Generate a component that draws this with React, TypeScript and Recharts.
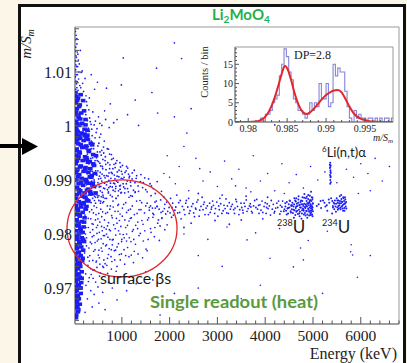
import {
  ScatterChart,
  Scatter,
  ComposedChart,
  Line,
  XAxis,
  YAxis,
  ReferenceArea,
  ReferenceDot,
} from "recharts";

// main scatter: [energy keV, m/S_m]
const lowCore: [number, number][] = [
  [30,1.0062],[140,1.0058],[80,1.0051],[190,1.0047],[35,1.0043],[120,1.0039],[60,1.0032],[210,1.0028],[150,1.0024],[30,1.0021],
  [95,1.0016],[240,1.0012],[45,1.0009],[170,1.0005],[110,1.0001],[40,0.9997],[220,0.9994],[75,0.999],[160,0.9987],[280,0.9983],
  [40,0.998],[130,0.9977],[200,0.9973],[30,0.997],[90,0.9967],[250,0.9963],[170,0.996],[55,0.9957],[310,0.9953],[120,0.995],
  [35,0.9946],[230,0.9943],[85,0.994],[180,0.9936],[290,0.9933],[35,0.993],[140,0.9926],[240,0.9923],[70,0.992],[200,0.9916],
  [30,0.9913],[110,0.991],[330,0.9906],[160,0.9903],[50,0.99],[260,0.9896],[95,0.9893],[190,0.989],[40,0.9886],[300,0.9883],
  [130,0.988],[220,0.9876],[60,0.9873],[170,0.987],[30,0.9866],[270,0.9863],[100,0.986],[200,0.9856],[40,0.9853],[150,0.985],
  [240,0.9846],[80,0.9843],[180,0.984],[35,0.9836],[120,0.9833],[220,0.983],[55,0.9826],[160,0.9823],[90,0.982],[30,0.9816],
  [200,0.9813],[130,0.981],[45,0.9806],[180,0.9803],[100,0.98],[40,0.9796],[160,0.9793],[70,0.979],[210,0.9786],[120,0.9783],
  [30,0.978],[150,0.9776],[60,0.9773],[190,0.977],[100,0.9766],[30,0.9763],[140,0.976],[75,0.9756],[30,0.9753],[170,0.975],
  [110,0.9746],[40,0.9743],[130,0.974],[70,0.9736],[30,0.9733],[160,0.973],[95,0.9726],[40,0.9723],[120,0.972],[60,0.9716],
  [30,0.9713],[150,0.971],[85,0.9706],[35,0.9703],[110,0.97],[55,0.9696],[30,0.9693],[140,0.969],[80,0.9686],[35,0.9683],
  [100,0.968],[50,0.9676],[30,0.9673],[120,0.967],[70,0.9666],[35,0.9663],[90,0.966],
  [50,1.0055],[90,1.002],[40,0.9985],[110,0.9952],[60,0.9918],[100,0.9882],[45,0.9848],[90,0.9815],[50,0.978],[80,0.9748],
  [40,0.9712],[70,0.9678],[45,0.965],[260,0.9978],[270,0.9938],[240,0.99],[230,0.9868],[210,0.9822],[190,0.979],[180,0.9755],
  [160,0.9718],[140,0.97],[380,0.9965],[400,0.993],[360,0.9905],[340,0.9878],
  [65,1.0047],[105,1.0036],[45,1.0026],[130,1.0013],[70,1.0004],[50,0.9993],[115,0.9983],[65,0.9974],[140,0.9965],[45,0.9954],
  [95,0.9944],[60,0.9935],[125,0.9924],[40,0.9915],[85,0.9906],[150,0.9896],[65,0.9886],[110,0.9876],[45,0.9866],[140,0.9856],
  [75,0.9846],[120,0.9836],[50,0.9826],[95,0.9816],[140,0.9806],[65,0.9796],[110,0.9786],[45,0.9776],[90,0.9766],[55,0.9756],
  [120,0.9746],[85,0.9736],[45,0.9726],[75,0.9716],[100,0.9706],[45,0.9696],[70,0.9686],[55,0.9672],[80,0.9656],[40,0.9645],
  [225,0.9982],[290,0.9975],[350,0.9968],[240,0.9961],[310,0.9955],[400,0.9947],[260,0.9941],[330,0.9934],[420,0.9927],[230,0.9921],
  [300,0.9914],[370,0.9908],[250,0.9901],[320,0.9894],[410,0.9888],[270,0.9881],[350,0.9874],[230,0.9868],[300,0.9861],[390,0.9894],
  [440,0.9912],[460,0.9945],[280,0.9992],[240,1.0002],[200,0.9858],[260,0.9851],[220,0.9985],[340,0.9921],[450,0.9876],
];

const upperSparse: [number, number][] = [
  [30,1.0175],[45,1.0168],[30,1.016],[60,1.0152],[35,1.0146],[30,1.0139],[80,1.0133],[50,1.0127],[30,1.0121],[110,1.0115],
  [55,1.011],[35,1.0104],[150,1.0099],[70,1.0095],[30,1.0091],[95,1.0087],[40,1.0083],[180,1.0079],[120,1.0075],[60,1.0071],
  [35,1.0068],[200,1.0064],[85,1.0066],[140,1.0071],[250,1.0056],[230,1.0088],[170,1.0102],[90,1.0122],[130,1.014],[60,1.0162],
  [40,1.013],[75,1.011],[45,1.0095],[100,1.01],[65,1.0082],[38,1.0113],[52,1.0078],[67,1.0137],[44,1.0058],[118,1.0053],
  [1030,1.0126],[1726,1.0107],[2100,1.0154],[990,1.0076],[1280,1.0048],[1750,1.0024],[2100,1.0017],[2360,0.9987],[680,1.007],
  [490,1.0081],[540,1.0005],[760,1.0041],[1630,1.0062],[2250,1.0125],[900,1.0012],[1350,1.0001],[4200,1.0002],[2450,1.0032],
  [430,1.0068],[360,1.0095],[640,1.0028],[320,1.0052],[1120,1.0021],
];

const betaHalo: [number, number][] = [
  [320,0.999],[360,0.9972],[410,0.9958],[350,0.994],[390,0.9925],[430,0.9912],[370,0.9898],[450,0.9886],[330,0.9874],[480,0.9995],
  [520,0.9968],[460,0.9946],[540,0.9931],[500,0.9917],[560,0.9903],[470,0.9889],[590,0.9877],[520,0.9862],[620,0.995],[650,0.9936],
  [600,0.9921],[680,0.9908],[640,0.9894],[700,0.9882],[610,0.9868],[720,0.9957],[750,0.9928],[780,0.9914],[730,0.9899],[800,0.9887],
  [760,0.9872],[820,0.994],[860,0.9923],[900,0.9907],[850,0.9893],[930,0.988],[880,0.9866],[960,0.9932],[990,0.9916],[1020,0.9902],
  [970,0.989],[1060,0.9876],[1100,0.9925],[1140,0.9911],[1180,0.9896],[1120,0.9884],[1220,0.987],[1260,0.9918],[1300,0.9903],[1340,0.9889],
  [1280,0.9877],[1400,0.991],[1450,0.9895],[1500,0.9882],[1560,0.9902],[1620,0.9889],[1700,0.9875],
  [280,1.001],[310,1.003],[260,1.0045],[340,1.0008],[420,1.0002],[290,0.9982],[300,0.9962],[280,0.9948],[310,0.993],[270,0.9918],
  [320,0.9905],[350,0.9889],[300,0.9872],[380,0.9982],[400,0.9948],[440,0.9936],[420,0.99],[390,0.9866],[440,0.9978],[380,0.9916],
  [560,0.9985],[580,0.9955],[500,0.9895],[550,0.988],[430,0.987],
  [262,0.9935],[287,0.9899],[305,0.9977],[318,0.9863],[333,0.9951],[347,0.9917],[362,0.9884],[371,0.9994],[389,0.9941],[402,0.9873],
  [415,0.9968],[428,0.9896],[437,0.9929],[451,0.9857],[463,0.9988],[476,0.9909],[489,0.9952],[497,0.9868],[511,0.9934],[523,0.9891],
  [534,0.9979],[547,0.9914],[558,0.9861],[569,0.9946],[581,0.9898],[593,0.9925],[606,0.9872],[617,0.9961],[629,0.9908],[642,0.9884],
  [655,0.9943],[668,0.9919],[679,0.9866],[693,0.9897],[706,0.9932],[718,0.9876],[731,0.9913],[744,0.9948],[757,0.9888],[771,0.9903],
  [786,0.9938],[799,0.9869],[813,0.9921],[828,0.9894],[842,0.9909],[858,0.9879],[873,0.9931],[889,0.9898],[905,0.9915],[921,0.9871],
  [938,0.9906],[954,0.9889],[972,0.9924],[991,0.9877],[1008,0.9911],[1027,0.9893],[1046,0.9905],[1067,0.9884],[1089,0.9917],[1112,0.9898],
  [1136,0.9878],[1161,0.9907],[1188,0.9889],[1215,0.9902],[1244,0.9881],[1275,0.9895],[1310,0.9908],[1350,0.9879],[1390,0.9897],[1435,0.9886],
  [1480,0.9904],[1530,0.9878],[1590,0.9893],[1660,0.9884],[1740,0.9897],[1830,0.9879],
  [246,1.0021],[271,1.0038],[298,0.9996],[326,1.0015],[356,1.0003],[393,1.0026],[447,1.0009],[512,1.0017],[583,1.0001],[661,1.0012],
  [735,0.9997],[829,1.0006],[252,0.9957],[277,0.9912],[292,0.9878],[258,0.9891],[283,0.9962],[339,0.9904],[366,0.9958],[398,0.9912],
  [442,0.9874],[486,0.9936],[532,0.9907],
  [452,0.9917],[468,0.9941],[483,0.9872],[499,0.9963],[514,0.9902],[528,0.9887],[543,0.9952],[557,0.9926],[572,0.9869],[587,0.9911],
  [603,0.9938],[618,0.9885],[633,0.9972],[649,0.9904],[664,0.9929],[679,0.9891],[695,0.9958],[712,0.9907],[728,0.9886],[745,0.9921],
  [763,0.9894],[781,0.9947],[799,0.9912],[818,0.9881],[837,0.9929],[856,0.9902],[876,0.9888],[897,0.9936],[918,0.9896],[941,0.9918],
  [964,0.9883],[988,0.9903],[1013,0.9927],[1039,0.9887],[1066,0.9914],[1094,0.9893],[1123,0.9922],[1153,0.9904],[1185,0.9871],[1219,0.9913],
];

const surfaceBetas: [number, number][] = [
  [250,0.988],[320,0.9862],[280,0.9845],[350,0.9828],[300,0.9812],[380,0.9795],[260,0.9778],[330,0.976],[290,0.9742],[360,0.9725],
  [420,0.9852],[460,0.9836],[400,0.9818],[480,0.9801],[440,0.9784],[410,0.9768],[470,0.975],[430,0.9733],[520,0.9871],[560,0.9846],
  [540,0.9822],[590,0.9806],[510,0.979],[570,0.9774],[530,0.9756],[600,0.974],[620,0.986],[660,0.9838],[700,0.9815],[640,0.9797],
  [680,0.978],[720,0.9762],[650,0.9745],[760,0.9852],[800,0.983],[740,0.9808],[820,0.979],[780,0.9771],[850,0.9752],[880,0.9866],
  [920,0.9842],[900,0.982],[960,0.98],[930,0.9782],[990,0.9763],[1040,0.9855],[1010,0.9833],[1080,0.9812],[1050,0.9793],[1120,0.9775],
  [1180,0.9846],[1150,0.9824],[1220,0.9805],[1190,0.9786],[1260,0.9768],[1320,0.9838],[1290,0.9816],[1360,0.9797],[1420,0.9825],[1480,0.9806],
  [1450,0.9787],[1560,0.983],[1600,0.981],[1680,0.9795],[1750,0.982],[1820,0.984],[1900,0.9808],[1380,0.9862],[1500,0.9852],[1640,0.9848],
  [1150,0.9868],[980,0.9876],[870,0.9884],[720,0.9878],[560,0.9888],[1280,0.9878],
  [230,0.9835],[240,0.98],[220,0.9765],[350,0.9872],[370,0.9845],[390,0.9808],[340,0.9785],[320,0.975],[450,0.9868],[500,0.9828],
  [470,0.9812],[520,0.977],[480,0.9738],[600,0.9858],[580,0.9832],[630,0.9812],[610,0.9782],[700,0.984],[680,0.98],[750,0.979],
  [700,0.9755],[820,0.985],[860,0.981],[800,0.978],[930,0.9855],[950,0.9825],[870,0.977],[1000,0.979],[1100,0.984],[1080,0.976],
  [1200,0.983],[1250,0.979],[1330,0.981],[1400,0.9845],[1550,0.979],[1100,0.98],[900,0.974],[780,0.9735],[650,0.9725],[550,0.9728],
  [400,0.9718],[300,0.9712],
  [236,0.9851],[249,0.9812],[263,0.9793],[274,0.9868],[289,0.9757],[297,0.9829],[311,0.9774],[324,0.9841],[337,0.9803],[346,0.9736],
  [358,0.9858],[367,0.9782],[378,0.9819],[392,0.9751],[405,0.9839],[416,0.9797],[427,0.9862],[439,0.9771],[448,0.9826],[461,0.9748],
  [473,0.9849],[486,0.9787],[494,0.9816],[507,0.9761],[518,0.9838],[529,0.9803],[541,0.9744],[552,0.9857],[566,0.9791],[577,0.9814],
  [589,0.9768],[598,0.9841],[613,0.9797],[624,0.9752],[637,0.9826],[648,0.9866],[661,0.9778],[672,0.9809],[686,0.9742],[697,0.9852],
  [709,0.9794],[722,0.9821],[735,0.9773],[748,0.9846],[761,0.9806],[774,0.9758],[787,0.9834],[801,0.9789],[815,0.9861],[829,0.9817],
  [843,0.9769],[857,0.9842],[872,0.9798],[886,0.9829],[901,0.9776],[917,0.9853],[932,0.9806],[948,0.9762],[963,0.9837],[979,0.9814],
  [995,0.9786],[1012,0.9848],[1029,0.9799],[1046,0.9771],[1063,0.9826],[1081,0.9858],[1099,0.9787],[1118,0.9816],[1137,0.9844],[1156,0.9793],
  [1176,0.9829],[1197,0.9761],[1218,0.9852],[1240,0.9808],[1262,0.9836],[1285,0.9781],[1309,0.9861],[1334,0.9822],[1360,0.9845],[1387,0.9801],
  [1415,0.9858],[1444,0.9818],[1474,0.9839],[1506,0.9772],[1539,0.9826],[1574,0.9849],[1611,0.9803],[1650,0.9831],[1692,0.9812],[1737,0.9851],
  [1785,0.9788],[1836,0.9829],[1890,0.9847],[1948,0.9817],[2010,0.9839],
  [243,0.9726],[318,0.9719],[396,0.9733],[452,0.9711],[533,0.9722],[618,0.9738],[703,0.9727],[792,0.9749],[881,0.9731],[968,0.9752],
  [1059,0.9744],[1149,0.9758],[1243,0.9747],[1340,0.9763],[1433,0.9756],[1529,0.9769],
  [250,0.9705],[350,0.9695],[280,0.968],[420,0.9688],[500,0.9702],[600,0.9692],[720,0.971],[520,0.9672],[380,0.9665],[650,0.966],
  [800,0.97],[900,0.9678],[230,0.9655],[1100,0.9695],[1300,0.9708],[1500,0.973],[1650,0.9715],[2100,0.969],[2600,0.97],[1800,0.965],
];

const alphaBand: [number, number][] = [
  [1600,0.9852],[1650,0.9838],[1720,0.9861],[1780,0.9846],[1840,0.983],[1900,0.9855],[1960,0.9842],[2020,0.9866],[2080,0.9835],[2130,0.985],
  [2190,0.9858],[2240,0.9828],[2300,0.9845],[2350,0.9862],[2410,0.9838],[2460,0.9851],[2520,0.9832],[2570,0.9859],[2630,0.9844],[2680,0.9868],
  [2740,0.9836],[2790,0.9852],[2850,0.984],[2900,0.9861],[2960,0.9847],[3010,0.9833],[3070,0.9856],[3120,0.9843],[3180,0.9865],[3230,0.9838],
  [3290,0.9851],[3340,0.9845],[3400,0.986],[3450,0.9836],[3510,0.9849],[3560,0.9857],[3620,0.9842],[3670,0.9852],[3730,0.9839],[3780,0.9862],
  [3840,0.9846],[3890,0.9854],[3950,0.984],[4000,0.9858],[4060,0.9847],[4110,0.9835],[4170,0.9855],[4220,0.9848],[4280,0.9861],[4330,0.9842],
  [1700,0.9848],[1880,0.9868],[2050,0.9849],[2210,0.984],[2380,0.985],[2550,0.9846],[2710,0.9855],[2880,0.985],[3040,0.9845],[3210,0.9852],
  [3370,0.9848],[3530,0.9844],[3700,0.985],[3870,0.9838],[4030,0.9849],[4200,0.9842],[2150,0.9872],[2600,0.9875],[3100,0.9872],[3600,0.987],
  [4050,0.9868],[2450,0.982],[2950,0.9825],[3500,0.9826],[3950,0.9828],[1800,0.9815],[2300,0.9812],[3250,0.9818],
  [1530,0.9857],[1575,0.9844],[1612,0.9871],[1668,0.9836],[1693,0.9859],[1741,0.9851],[1766,0.9826],[1812,0.9863],[1857,0.9842],[1918,0.9837],
  [1937,0.9859],[1989,0.9849],[2041,0.9831],[2064,0.9857],[2111,0.9844],[2168,0.9839],[2222,0.9862],[2267,0.9851],[2319,0.9836],[2337,0.9857],
  [2396,0.9866],[2428,0.9843],[2487,0.9856],[2503,0.9839],[2541,0.9848],[2592,0.9863],[2618,0.9833],[2657,0.9851],[2699,0.9845],[2726,0.9859],
  [2763,0.9848],[2811,0.9836],[2837,0.9857],[2872,0.9846],[2918,0.9853],[2943,0.9838],[2987,0.9859],[3027,0.9852],[3051,0.9866],[3093,0.9838],
  [3138,0.9853],[3161,0.9847],[3197,0.9839],[3248,0.9858],[3271,0.9846],[3313,0.9855],[3358,0.9838],[3386,0.9864],[3421,0.9851],[3468,0.9845],
  [3493,0.9857],[3538,0.9839],[3577,0.9851],[3604,0.9863],[3643,0.9847],[3688,0.9856],[3714,0.9842],[3757,0.9852],[3806,0.9849],[3823,0.9864],
  [3861,0.9853],[3912,0.9844],[3934,0.9861],[3977,0.9851],[4019,0.9838],[4042,0.9856],[4087,0.9852],[4126,0.9862],[4149,0.9846],[4188,0.9839],
  [4243,0.9857],[4262,0.9849],[4307,0.9837],[4318,0.9853],[4365,0.9861],[4402,0.9846],
];

const u238: [number, number][] = [
  [4350,0.985],[4390,0.9842],[4420,0.9857],[4450,0.9836],[4480,0.9848],[4510,0.9862],[4540,0.984],[4560,0.9853],[4590,0.9845],[4610,0.9866],
  [4630,0.9835],[4650,0.9851],[4670,0.9843],[4690,0.9858],[4710,0.9838],[4730,0.9849],[4750,0.9862],[4770,0.9844],[4790,0.9855],[4810,0.9836],
  [4830,0.985],[4850,0.9866],[4870,0.9842],[4880,0.9857],[4900,0.9847],[4920,0.9834],[4930,0.9861],[4950,0.9852],[4960,0.984],[4975,0.9868],
  [4985,0.9846],[4995,0.9856],[4700,0.987],[4820,0.9874],[4900,0.9872],[4960,0.9878],[4600,0.983],[4760,0.9828],[4880,0.983],[4990,0.9833],
  [4550,0.9852],[4640,0.986],[4720,0.9854],[4800,0.9846],[4860,0.9852],[4940,0.9843],[4980,0.985],[4910,0.9858],
  [4423,0.9851],[4437,0.9843],[4452,0.9859],[4466,0.9847],[4479,0.9838],[4493,0.9855],[4506,0.9849],[4519,0.9861],[4531,0.9842],[4544,0.9853],
  [4557,0.9846],[4569,0.9858],[4581,0.9839],[4593,0.9851],[4605,0.9855],[4617,0.9844],[4628,0.9862],[4639,0.9848],[4651,0.9841],[4662,0.9856],
  [4673,0.9852],[4684,0.9837],[4695,0.9864],[4706,0.9845],[4716,0.9853],[4727,0.9841],[4737,0.9859],[4747,0.9849],[4757,0.9855],[4767,0.9838],
  [4777,0.9861],[4786,0.9847],[4796,0.9852],[4805,0.9843],[4814,0.9867],[4823,0.9856],[4832,0.9839],[4841,0.9848],[4850,0.9854],[4858,0.9843],
  [4866,0.9861],[4874,0.9851],[4882,0.9836],[4890,0.9856],[4898,0.9865],[4905,0.9845],[4912,0.9853],[4919,0.9841],[4926,0.9858],[4933,0.9849],
  [4940,0.9863],[4946,0.9838],[4952,0.9855],[4958,0.9847],[4964,0.9861],[4970,0.9843],[4976,0.9852],[4981,0.9836],[4986,0.9864],[4991,0.9849],
  [4996,0.9857],[4999,0.9842],[4870,0.9869],[4935,0.9871],[4780,0.9868],[4650,0.9866],[4990,0.9867],[4720,0.9833],[4845,0.9834],[4955,0.9835],
];

const u234: [number, number][] = [
  [5120,0.9855],[5170,0.9848],[5210,0.9862],[5260,0.9851],[5300,0.9843],[5340,0.9858],[5380,0.9866],[5420,0.9849],[5450,0.9856],[5480,0.9841],
  [5510,0.9862],[5530,0.9852],[5560,0.987],[5580,0.9846],[5600,0.986],[5620,0.9853],[5640,0.9866],[5660,0.9848],[5680,0.9858],[5550,0.9857],
  [5590,0.9872],[5630,0.9843],[5670,0.9868],[5520,0.9845],[5400,0.9838],
  [5405,0.9861],[5418,0.9852],[5432,0.9858],[5446,0.9846],[5459,0.9862],[5471,0.9851],[5484,0.9856],[5496,0.9866],[5508,0.9849],[5519,0.9858],
  [5531,0.9862],[5542,0.9847],[5553,0.9853],[5564,0.9861],[5574,0.9849],[5585,0.9857],[5595,0.9865],[5605,0.9851],[5614,0.9859],[5624,0.9847],
  [5633,0.9868],[5642,0.9855],[5651,0.9861],[5660,0.9843],[5668,0.9856],[5676,0.9864],[5684,0.9851],[5692,0.9859],[5698,0.9847],[5240,0.9858],
  [5290,0.9853],[5330,0.9864],[5160,0.9861],[5080,0.9852],
];

const li6Line: [number, number][] = [
  [5360,0.9932],[5370,0.9927],[5355,0.9922],[5365,0.9918],[5372,0.9913],[5358,0.9909],[5368,0.9905],[5362,0.99],[5375,0.9896],[5352,0.9928],
  [5366,0.9915],[5360,0.9893],[5363,0.9924],[5369,0.9907],
];

const highSparse: [number, number][] = [
  [2000,0.9905],[2200,0.9925],[2400,0.988],[2550,0.994],[2700,0.9898],[2850,0.9915],[3000,0.9888],[3150,0.9935],[3300,0.9902],[3450,0.992],
  [3600,0.9885],[3750,0.9945],[3900,0.9898],[4050,0.9912],[4200,0.988],[4350,0.993],[4500,0.9895],[4650,0.991],[4800,0.9885],[4950,0.9925],
  [5100,0.99],[5250,0.9915],[5500,0.9895],[5700,0.992],[5850,0.9905],[6000,0.993],[6150,0.9912],[6300,0.994],[6450,0.9898],[6600,0.9925],
  [6200,0.988],[5950,0.9875],[4400,0.9875],[3700,0.9878],[1950,0.9945],[2300,0.9962],[1880,0.9912],[2120,0.9893],[2630,0.9921],[3380,0.9889],
  [2300,0.98],[2800,0.979],[3200,0.9813],[3620,0.9789],[3800,0.9802],[4300,0.981],[4900,0.9788],[5300,0.9805],[5790,0.9767],[5830,0.9761],
  [5800,0.978],[5930,0.972],[4740,0.9774],[4800,0.9752],[4590,0.9739],[3100,0.974],[3900,0.9705],[5200,0.969],[6200,0.976],[2600,0.976],
  [4100,0.9755],[3500,0.968],
];

// inset: m/S_m histogram, counts per bin
const histStart = 0.978;
const histWidth = 0.0003;
const histCounts = [
  0,0,0,0,0,0,0,0,0,0,0,0,1,0,2,2,3,5,6,7,
  12,15,19,17,13,11,6,5,3,3,2,1,2,5,3,5,4,10,6,6,
  10,4,5,15,12,14,13,13,8,4,1,0,3,1,2,1,1,0,1,1,
  0,1,0,1,0,1,1,0,1,0,
];

const fitCurve: [number, number][] = [
  [0.9783,0],[0.98,0],[0.981,0.1],[0.9815,0.4],[0.982,1],[0.9825,2.2],[0.983,4.2],[0.9835,7],[0.984,10.4],[0.9844,13.2],
  [0.9847,14.6],[0.985,14],[0.9855,11],[0.986,7.2],[0.9865,4.3],[0.987,2.6],[0.9875,2.1],[0.988,2.6],[0.9885,3.6],[0.989,4.8],
  [0.9895,6],[0.99,7],[0.9905,7.7],[0.991,8.2],[0.9915,8.3],[0.992,7.7],[0.9925,6],[0.993,4],[0.9935,2.4],[0.994,1.4],
  [0.9945,0.8],[0.995,0.45],[0.9955,0.25],[0.996,0.1],[0.997,0.02],[0.9986,0],
];

const xMajorTicks = [1000, 2000, 3000, 4000, 5000, 6000];
const yMajorTicks = [0.97, 0.98, 0.99, 1, 1.01];
const yMajorLabels = ["0.97", "0.98", "0.99", "1", "1.01"];
const insetXMajor = [0.98, 0.985, 0.99, 0.995];
const insetXLabels = ["0.98", "0.985", "0.99", "0.995"];
const insetYMajor = [0, 5, 10, 15];

const X_DOMAIN: [number, number] = [20, 6800];
const Y_DOMAIN: [number, number] = [0.96333, 1.01833];
const IX_DOMAIN: [number, number] = [0.9783, 0.9986];
const IY_DOMAIN: [number, number] = [0, 19.5];

const SERIF = '"Liberation Serif", "DejaVu Serif", serif';
const SANS = 'Lato, "Open Sans", sans-serif';
const DOT = "#1c1cf5";

const range = (a: number, b: number, step: number) => {
  const out: number[] = [];
  for (let v = a; v <= b + step / 1000; v += step) out.push(Math.round(v / step) * step);
  return out;
};
const near = (v: number, list: number[]) => list.findIndex((t) => Math.abs(t - v) < 1e-7);

const xTicks = range(200, 6800, 200);
const yTicks = range(0.964, 1.018, 0.002);
const ixTicks = range(0.979, 0.998, 0.001);
const iyTicks = range(0, 19, 1);

const toPts = (a: [number, number][]) => a.map(([e, r]) => ({ e, r }));
const histData = histCounts.map((c, i) => ({ v: histStart + i * histWidth, c }));
const fitData = fitCurve.map(([v, c]) => ({ v, c }));

const dot = (r: number) => (p: any) => <circle cx={p.cx} cy={p.cy} r={r} fill={DOT} />;
const block = (p: any) => <rect x={p.cx - 2.3} y={p.cy - 1.8} width={4.6} height={3.6} fill={DOT} />;

const XTick = (p: any) => {
  const i = near(p.payload.value, xMajorTicks);
  return (
    <g>
      <line x1={p.x} x2={p.x} y1={p.y} y2={p.y - (i >= 0 ? 7 : 3.5)} stroke="#555" />
      {i >= 0 && (
        <text x={p.x} y={p.y + 17} textAnchor="middle" fontFamily={SERIF} fontSize={15.5} fill="#222">
          {xMajorTicks[i]}
        </text>
      )}
    </g>
  );
};

const YTick = (p: any) => {
  const i = near(p.payload.value, yMajorTicks);
  return (
    <g>
      <line x1={p.x} x2={p.x + (i >= 0 ? 8 : 4)} y1={p.y} y2={p.y} stroke="#555" />
      {i >= 0 && (
        <text x={p.x - 3} y={p.y + 6} textAnchor="end" fontFamily={SERIF} fontSize={16} fill="#222">
          {yMajorLabels[i]}
        </text>
      )}
    </g>
  );
};

const IXTick = (p: any) => {
  const i = near(p.payload.value, insetXMajor);
  return (
    <g>
      <line x1={p.x} x2={p.x} y1={p.y} y2={p.y - (i >= 0 ? 4 : 2)} stroke="#555" />
      {i >= 0 && (
        <text x={p.x} y={p.y + 10} textAnchor="middle" fontFamily={SERIF} fontSize={10} fill="#222">
          {insetXLabels[i]}
        </text>
      )}
    </g>
  );
};

const IYTick = (p: any) => {
  const i = near(p.payload.value, insetYMajor);
  return (
    <g>
      <line x1={p.x} x2={p.x + (i >= 0 ? 4 : 2)} y1={p.y} y2={p.y} stroke="#555" />
      {i >= 0 && (
        <text x={p.x - 2} y={p.y + 3.5} textAnchor="end" fontFamily={SERIF} fontSize={10} fill="#222">
          {insetYMajor[i]}
        </text>
      )}
    </g>
  );
};

const Ellipse = (p: any) => (
  <ellipse cx={p.cx} cy={p.cy} rx={55} ry={48.5} fill="none" stroke="#e0262c" strokeWidth={1.3} />
);

export default function App() {
  return (
    <div
      style={{
        position: "absolute",
        left: 0,
        top: 0,
        width: 407,
        height: 363,
        overflow: "hidden",
        background: "#fcf6e8",
      }}
    >
      <div
        style={{
          position: "absolute",
          left: 18,
          top: 4,
          width: 382,
          height: 370,
          border: "3px solid #111",
          background: "#fff",
        }}
      />

      <div style={{ position: "absolute", left: 0, top: 0 }}>
        <ScatterChart width={407} height={363} margin={{ top: 27, right: 8, bottom: 0, left: 0 }}>
          <XAxis
            type="number"
            dataKey="e"
            domain={X_DOMAIN}
            allowDataOverflow
            ticks={xTicks}
            interval={0}
            tickSize={0}
            tickMargin={0}
            tickLine={false}
            axisLine={{ stroke: "#777" }}
            height={39}
            tick={XTick}
          />
          <YAxis
            type="number"
            dataKey="r"
            domain={Y_DOMAIN}
            allowDataOverflow
            ticks={yTicks}
            interval={0}
            tickSize={0}
            tickMargin={0}
            tickLine={false}
            axisLine={{ stroke: "#777" }}
            width={75}
            tick={YTick}
          />
          <ReferenceArea x1={X_DOMAIN[0]} x2={X_DOMAIN[1]} y1={Y_DOMAIN[0]} y2={Y_DOMAIN[1]} fill="none" stroke="#999" />
          <Scatter data={toPts(lowCore)} shape={block} isAnimationActive={false} />
          <Scatter data={toPts(upperSparse)} shape={dot(0.85)} isAnimationActive={false} />
          <Scatter data={toPts(betaHalo)} shape={dot(0.9)} isAnimationActive={false} />
          <Scatter data={toPts(surfaceBetas)} shape={dot(0.85)} isAnimationActive={false} />
          <Scatter data={toPts(alphaBand)} shape={dot(0.9)} isAnimationActive={false} />
          <Scatter data={toPts(u238)} shape={dot(1)} isAnimationActive={false} />
          <Scatter data={toPts(u234)} shape={dot(1)} isAnimationActive={false} />
          <Scatter data={toPts(li6Line)} shape={dot(1)} isAnimationActive={false} />
          <Scatter data={toPts(highSparse)} shape={dot(0.8)} isAnimationActive={false} />
          <ReferenceDot x={1004} y={0.98102} r={1} shape={Ellipse} />
        </ScatterChart>
      </div>

      <div style={{ position: "absolute", left: 195, top: 40 }}>
        <ComposedChart width={203} height={110} margin={{ top: 7, right: 5, bottom: 0, left: 0 }}>
          <XAxis
            type="number"
            dataKey="v"
            domain={IX_DOMAIN}
            allowDataOverflow
            ticks={ixTicks}
            interval={0}
            tickSize={0}
            tickMargin={0}
            tickLine={false}
            axisLine={{ stroke: "#777" }}
            height={28}
            tick={IXTick}
          />
          <YAxis
            type="number"
            domain={IY_DOMAIN}
            allowDataOverflow
            ticks={iyTicks}
            interval={0}
            tickSize={0}
            tickMargin={0}
            tickLine={false}
            axisLine={{ stroke: "#777" }}
            width={40}
            tick={IYTick}
          />
          <ReferenceArea x1={IX_DOMAIN[0]} x2={IX_DOMAIN[1]} y1={IY_DOMAIN[0]} y2={IY_DOMAIN[1]} fill="none" stroke="#999" />
          <Line
            data={histData}
            dataKey="c"
            type="stepAfter"
            stroke="#8585d8"
            strokeWidth={1.1}
            dot={false}
            isAnimationActive={false}
          />
          <Line
            data={fitData}
            dataKey="c"
            type="monotone"
            stroke="#e3262b"
            strokeWidth={2}
            dot={false}
            isAnimationActive={false}
          />
        </ComposedChart>
      </div>

      <svg
        width={407}
        height={363}
        style={{ position: "absolute", left: 0, top: 0, pointerEvents: "none" }}
      >
        <line x1={0} y1={146} x2={24} y2={146} stroke="#000" strokeWidth={4} />
        <polygon points="22,138 38,146.5 22,155" fill="#000" />

        <text transform="translate(31,44) rotate(-90)" textAnchor="middle" fontFamily={SERIF} fontStyle="italic" fontSize={15} fill="#222">
          m/S<tspan fontSize={10} dy={3}>m</tspan>
        </text>
        <text x={397} y={359} textAnchor="end" fontFamily={SERIF} fontSize={16} fill="#222">
          Energy (keV)
        </text>

        <text x={212} y={20} fontFamily={SANS} fontWeight="bold" fontSize={15} fill="#22b14c">
          Li<tspan fontSize={10} dy={3}>2</tspan>
          <tspan dy={-3}>MoO</tspan>
          <tspan fontSize={10} dy={3}>4</tspan>
        </text>
        <text x={150} y={308} fontFamily={SANS} fontWeight="bold" fontSize={17} fill="#5a9a3b" textLength={168} lengthAdjust="spacingAndGlyphs">
          Single readout (heat)
        </text>
        <text x={100} y={284} fontFamily={SANS} fontSize={16} fill="#1a1a1a">
          surface βs
        </text>
        <text x={277} y={233} fontFamily={SANS} fill="#1a1a1a">
          <tspan fontSize={9} dy={-7}>238</tspan>
          <tspan fontSize={17} dy={7}>U</tspan>
        </text>
        <text x={322} y={233} fontFamily={SANS} fill="#1a1a1a">
          <tspan fontSize={9} dy={-7}>234</tspan>
          <tspan fontSize={17} dy={7}>U</tspan>
        </text>
        <text x={322} y={157} fontFamily={SANS} fill="#1a1a1a">
          <tspan fontSize={8} dy={-5}>6</tspan>
          <tspan fontSize={13} dy={5}>Li(n,t)α</tspan>
        </text>

        <text x={294} y={59} fontFamily={SERIF} fontSize={12} fill="#222">
          DP=2.8
        </text>
        <text transform="translate(208,72) rotate(-90)" textAnchor="middle" fontFamily={SERIF} fontSize={10.5} fill="#222">
          Counts / bin
        </text>
        <text x={373} y={141} fontFamily={SERIF} fontStyle="italic" fontSize={10} fill="#222">
          m/S<tspan fontSize={7} dy={2}>m</tspan>
        </text>
      </svg>
    </div>
  );
}
